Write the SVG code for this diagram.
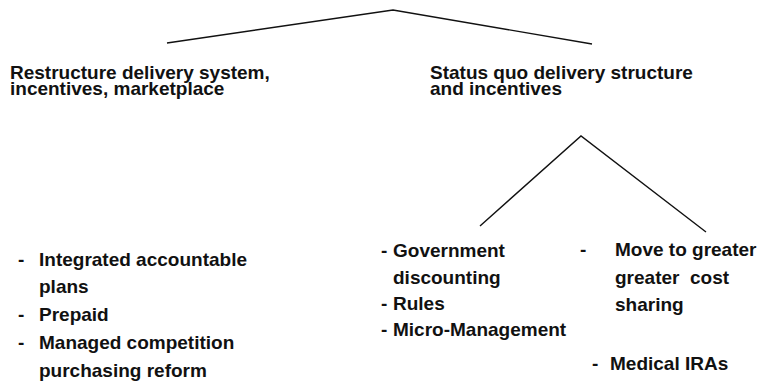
<svg xmlns="http://www.w3.org/2000/svg" width="762" height="384" viewBox="0 0 762 384">
  <style>
    .t { font-family: "Liberation Sans", Arial, sans-serif; font-weight: bold; font-size: 19px; fill: #111; }
    .ln { fill: none; stroke: #111; stroke-width: 1.4; stroke-linejoin: miter; }
  </style>
  <rect width="762" height="384" fill="#fff"/>

  <g id="connectors">
    <polyline class="ln" points="167,43 393,10 592,44"/>
    <polyline class="ln" points="480,226 581,136 706,232"/>
  </g>

  <g id="restructure">
    <text class="t" x="10" y="79">Restructure delivery system,</text>
    <text class="t" x="10" y="95">incentives, marketplace</text>
  </g>

  <g id="status-quo">
    <text class="t" x="430" y="79">Status quo delivery structure</text>
    <text class="t" x="430" y="95">and incentives</text>
  </g>

  <g id="restructure-options">
    <text class="t" x="18" y="266">-</text>
    <text class="t" x="39" y="266">Integrated accountable</text>
    <text class="t" x="39" y="293">plans</text>
    <text class="t" x="18" y="321">-</text>
    <text class="t" x="39" y="321">Prepaid</text>
    <text class="t" x="18" y="349">-</text>
    <text class="t" x="39" y="349">Managed competition</text>
    <text class="t" x="39" y="377">purchasing reform</text>
  </g>

  <g id="government-options">
    <text class="t" x="381" y="257">-</text>
    <text class="t" x="393" y="257">Government</text>
    <text class="t" x="393" y="284">discounting</text>
    <text class="t" x="381" y="310">-</text>
    <text class="t" x="393" y="310">Rules</text>
    <text class="t" x="381" y="336">-</text>
    <text class="t" x="393" y="336">Micro-Management</text>
  </g>

  <g id="cost-sharing-options">
    <text class="t" x="580" y="256">-</text>
    <text class="t" x="615" y="256">Move to greater</text>
    <text class="t" x="615" y="284" xml:space="preserve">greater  cost</text>
    <text class="t" x="615" y="311">sharing</text>
    <text class="t" x="592" y="370">-</text>
    <text class="t" x="610" y="370">Medical IRAs</text>
  </g>
</svg>
